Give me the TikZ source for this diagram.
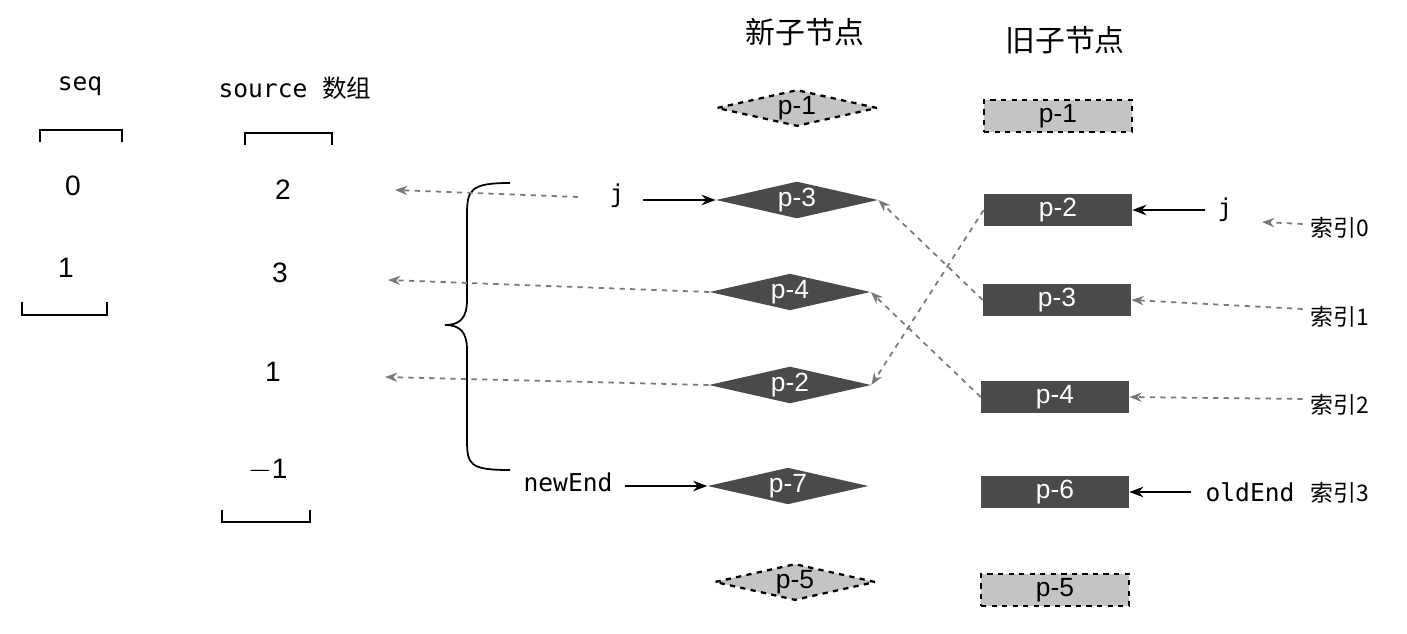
\documentclass[tikz,border=0pt]{standalone}
\usepackage{fontspec}
\setmainfont{Liberation Sans}
\newfontfamily\cjk{Noto Sans CJK SC}
\newfontfamily\mono{DejaVu Sans Mono}
\usetikzlibrary{shapes.geometric,arrows.meta,decorations.pathreplacing}
\definecolor{dk}{HTML}{4A4A4A}
\definecolor{lt}{HTML}{C4C4C4}
\definecolor{ln}{HTML}{7A7A7A}
\newlength\px \setlength\px{0.02cm}
\tikzset{
 ndia/.style={diamond,aspect=4.4,inner sep=1pt,minimum width=150\px,minimum height=36\px,fill=dk,text=white,font=\fontsize{15}{15}\selectfont},
 ndiad/.style={ndia,fill=lt,text=black,draw=black,dashed,line width=1.3pt},
 orect/.style={rectangle,minimum width=148\px,minimum height=32\px,fill=dk,text=white,font=\fontsize{15}{15}\selectfont,inner sep=0pt},
 orectd/.style={orect,fill=lt,text=black,draw=black,dashed,line width=1.3pt},
 lbl/.style={font=\fontsize{16}{16}\selectfont},
 mlbl/.style={font=\mono\fontsize{14}{14}\selectfont},
 clbl/.style={font=\cjk\fontsize{17}{17}\selectfont},
 sidx/.style={font=\cjk\fontsize{13}{13}\selectfont},
 solid arr/.style={-{Stealth[length=8pt]},line width=1pt},
 dash arr/.style={-{Stealth[length=7pt]},dashed,ln,line width=1pt},
 brk/.style={line width=1pt}
}
\begin{document}
\begin{tikzpicture}[x=0.02cm,y=-0.02cm]
\useasboundingbox (0,0) rectangle (1407,634);
\node[clbl] (tn) at (805,32) {新子节点};
\node[clbl] (to) at (1065,40) {旧子节点};
\node[mlbl] (seq) at (80,86) {seq};
\node[mlbl] (src) at (295,88) {source \cjk 数组};
\draw[brk] (40,142) -- (40,130) -- (122,130) -- (122,142);
\draw[brk] (245,145) -- (245,133) -- (332,133) -- (332,145);
\draw[brk] (22,302) -- (22,315) -- (107,315) -- (107,302);
\draw[brk] (222,510) -- (222,522) -- (310,522) -- (310,510);
\node[lbl] (s0) at (73,186) {0};
\node[lbl] (s1) at (66,268) {1};
\node[lbl] (v2) at (283,190) {2};
\node[lbl] (v3) at (280,273) {3};
\node[lbl] (v1) at (273,372) {1};
\node[lbl] (vm) at (268,470) {$-$1};
\node[ndiad] (n1) at (797,108) {p-1};
\node[ndia] (n3) at (797,200) {p-3};
\node[ndia] (n4) at (790,292) {p-4};
\node[ndia] (n2) at (790,385) {p-2};
\node[ndia] (n7) at (788,486) {p-7};
\node[ndiad] (n5) at (795,582) {p-5};
\node[orectd] (o1) at (1058,116) {p-1};
\node[orect] (o2) at (1058,210) {p-2};
\node[orect] (o3) at (1057,300) {p-3};
\node[orect] (o4) at (1055,397) {p-4};
\node[orect] (o6) at (1055,492) {p-6};
\node[orectd] (o5) at (1055,590) {p-5};
\draw[line width=1pt] (510,183) .. controls (470,183) and (467,190) .. (467,215) -- (467,300) .. controls (467,318) and (460,325) .. (445,325) .. controls (460,325) and (467,332) .. (467,350) -- (467,440) .. controls (467,465) and (470,470) .. (510,470);
\node[mlbl] (jn) at (617,196) {j};
\node[mlbl] (ne) at (568,482) {newEnd};
\draw[solid arr] (jn.east |- n3.west) ++(12,0) -- (n3.west);
\draw[solid arr] (ne.east |- n7.west) ++(6,0) -- (n7.west);
\coordinate (a1) at (578,197); \coordinate (b1) at (395,190);
\coordinate (b2) at (388,280); \coordinate (b3) at (385,377);
\draw[dash arr] (a1) -- (b1);
\draw[dash arr] (n4.west) -- (b2);
\draw[dash arr] (n2.west) -- (b3);
\draw[dash arr] (o2.west) -- (n2.east);
\draw[dash arr] (o3.west) -- (n3.east);
\draw[dash arr] (o4.west) -- (n4.east);
\node[mlbl] (jo) at (1225,210) {j};
\node[mlbl] (oe) at (1250,492) {oldEnd};
\draw[solid arr] (jo.west |- o2.east) ++(-6,0) -- (o2.east);
\draw[solid arr] (oe.west |- o6.east) ++(-8,0) -- (o6.east);
\node[sidx] (i0) at (1340,228) {索引0};
\node[sidx] (i1) at (1340,317) {索引1};
\node[sidx] (i2) at (1340,405) {索引2};
\node[sidx] (i3) at (1340,493) {索引3};
\coordinate (c0) at (1262,222);
\draw[dash arr] (i0.west)++(-2,-4) -- (c0);
\draw[dash arr] (i1.west)++(-2,-8) -- (o3.east);
\draw[dash arr] (i2.west)++(-2,-6) -- (o4.east);
\end{tikzpicture}
\end{document}
